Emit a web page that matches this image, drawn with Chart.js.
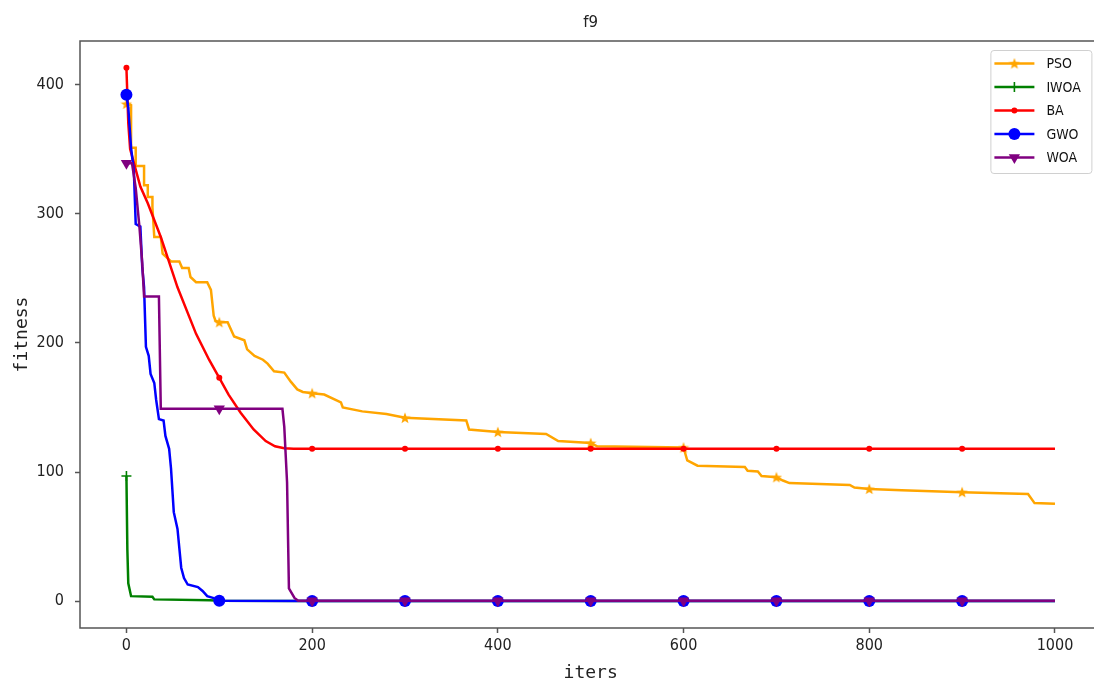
<!DOCTYPE html>
<html>
<head>
<meta charset="utf-8">
<script src="https://cdn.jsdelivr.net/npm/chart.js@4/dist/chart.umd.min.js"></script>
<style>
  html, body { margin: 0; padding: 0; background: #fff; overflow: hidden; }
  #wrap { width: 1094px; height: 684px; overflow: hidden; }
</style>
</head>
<body>
<div id="wrap"><canvas id="f9Chart" width="1108" height="684"></canvas></div>
<script>
// f9 : courbes de convergence (fitness vs iters)

const xTicks = [0, 200, 400, 600, 800, 1000];
const yTicks = [0, 100, 200, 300, 400];

// [iteration, fitness]
const psoCurve = [
  [0, 385], [5, 384], [5, 351], [10, 351], [10, 337], [19, 337], [19, 322], [23, 322],
  [23, 313], [28, 313], [28, 305], [30, 282], [37, 282], [39, 269], [48, 263], [57, 263],
  [60, 258], [67, 258], [69, 251], [75, 247], [87, 247], [91, 241], [94, 221], [96, 217],
  [100, 216], [109, 216], [116, 205], [127, 202], [130, 195], [138, 190], [147, 187],
  [152, 184], [159, 178], [170, 177], [177, 170], [184, 164], [190, 162], [200, 161],
  [213, 160], [231, 154], [233, 150], [254, 147], [280, 145], [300, 142], [366, 140],
  [369, 133], [400, 131], [452, 129.5], [465, 124], [500, 122.5], [507, 120], [600, 119],
  [604, 109], [615, 105], [666, 104], [669, 101], [680, 100.5], [684, 97], [700, 96],
  [707, 93.5], [714, 91.5], [779, 90], [784, 88], [800, 87], [835, 86], [900, 84.5],
  [971, 83], [978, 76], [1000, 75.5]
];
const iwoaCurve = [
  [0, 97], [1, 40], [2, 14], [5, 4], [28, 3.5], [30, 1.5], [90, 0.8], [100, 0.5],
  [200, 0.3], [300, 0.3], [400, 0.3], [500, 0.3], [600, 0.3], [700, 0.3], [800, 0.3],
  [900, 0.3], [1000, 0.3]
];
const baCurve = [
  [0, 413], [2, 370], [4, 350], [7, 342], [15, 321], [23, 308], [37, 282], [55, 243],
  [75, 207], [89, 187], [100, 173], [110, 160], [123, 146], [137, 133], [150, 124],
  [160, 120], [170, 118.5], [180, 118], [200, 118], [300, 118], [400, 118], [500, 118],
  [600, 118], [700, 118], [800, 118], [900, 118], [1000, 118]
];
const gwoCurve = [
  [0, 392], [2, 382], [5, 351], [8, 333], [10, 292], [15, 290], [17, 259], [19, 243],
  [21, 197], [24, 190], [26, 176], [30, 169], [32, 156], [35, 141], [40, 140], [42, 128],
  [46, 118], [48, 103], [51, 69], [55, 56], [57, 41], [59, 26], [62, 18], [66, 13],
  [77, 11], [82, 8], [87, 4], [94, 2.5], [100, 0.5], [200, 0.2], [300, 0.2], [400, 0.2],
  [500, 0.2], [600, 0.2], [700, 0.2], [800, 0.2], [900, 0.2], [1000, 0.2]
];
const woaCurve = [
  [0, 339], [6, 339], [10, 320], [14, 290], [17, 262], [19, 236], [35, 236], [37, 149],
  [100, 149], [168, 149], [170, 135], [173, 92], [175, 10], [181, 2.6], [185, 0.5],
  [200, 0.5], [300, 0.5], [400, 0.5], [500, 0.5], [600, 0.5], [700, 0.5], [800, 0.5],
  [900, 0.5], [1000, 0.5]
];

const seriesNames = ['PSO', 'IWOA', 'BA', 'GWO', 'WOA'];
const seriesColors = ['#FFA500', '#008000', '#FF0000', '#0000FF', '#800080'];

const NARROW = "'Liberation Sans Narrow', 'DejaVu Sans Condensed', 'Liberation Sans', sans-serif";
const MONO = "'DejaVu Sans Mono', 'Liberation Mono', monospace";

// étoile pleine (marqueur '*' de matplotlib)
function starImage(color, size) {
  const c = document.createElement('canvas');
  c.width = size; c.height = size;
  const g = c.getContext('2d');
  g.fillStyle = color;
  g.beginPath();
  for (let i = 0; i < 10; i++) {
    const a = -Math.PI / 2 + i * Math.PI / 5;
    const r = i % 2 ? size * 0.21 : size * 0.5;
    const px = size / 2 + r * Math.cos(a), py = size / 2 + 0.5 + r * Math.sin(a);
    if (i === 0) g.moveTo(px, py); else g.lineTo(px, py);
  }
  g.closePath();
  g.fill();
  return c;
}

const markers = [
  { pointStyle: starImage('#FFA500', 12), radius: 6, rotation: 0, borderWidth: 0 },
  { pointStyle: 'cross', radius: 5, rotation: 0, borderWidth: 1.6 },
  { pointStyle: 'circle', radius: 3, rotation: 0, borderWidth: 0 },
  { pointStyle: 'circle', radius: 6, rotation: 0, borderWidth: 0 },
  { pointStyle: 'triangle', radius: 6.5, rotation: 180, borderWidth: 0 }
];

const curves = [psoCurve, iwoaCurve, baCurve, gwoCurve, woaCurve];

// marqueur tous les 100 iterations (markevery=100)
function markEvery(r) {
  return (ctx) => {
    const x = ctx.raw && ctx.raw.x;
    return (x % 100 === 0 && x < 1000) ? r : 0;
  };
}

const datasets = curves.map((curve, i) => ({
  label: seriesNames[i],
  data: curve.map(p => ({ x: p[0], y: p[1] })),
  borderColor: seriesColors[i],
  backgroundColor: seriesColors[i],
  pointBackgroundColor: seriesColors[i],
  pointBorderColor: seriesColors[i],
  borderWidth: 2.5,
  tension: 0,
  pointStyle: markers[i].pointStyle,
  pointRotation: markers[i].rotation,
  pointBorderWidth: markers[i].borderWidth,
  pointRadius: markEvery(markers[i].radius),
  pointHoverRadius: 0,
  order: 5 - i   // WOA dessus, comme matplotlib
}));

// cadre + légende façon matplotlib
const frameAndLegend = {
  id: 'frameAndLegend',
  afterDraw(chart) {
    const { ctx, chartArea: a } = chart;
    ctx.save();
    ctx.strokeStyle = '#555';
    ctx.lineWidth = 1.5;
    ctx.strokeRect(a.left, a.top, a.right - a.left, a.bottom - a.top);

    // légende
    const bx = a.right - 111, by = a.top + 9, bw = 101, bh = 123;
    ctx.fillStyle = 'rgba(255,255,255,0.85)';
    ctx.strokeStyle = '#d0d0d0';
    ctx.lineWidth = 1;
    ctx.beginPath();
    ctx.roundRect(bx + 0.5, by + 0.5, bw, bh, 3);
    ctx.fill();
    ctx.stroke();
    ctx.font = '14px ' + NARROW;
    ctx.textBaseline = 'middle';
    seriesNames.forEach((name, i) => {
      const y = by + 13.5 + i * 23.5;
      ctx.strokeStyle = seriesColors[i];
      ctx.fillStyle = seriesColors[i];
      ctx.lineWidth = 2.5;
      ctx.beginPath();
      ctx.moveTo(bx + 4, y);
      ctx.lineTo(bx + 44, y);
      ctx.stroke();
      ctx.lineWidth = markers[i].borderWidth || 1;
      Chart.helpers.drawPoint(ctx, {
        pointStyle: markers[i].pointStyle,
        radius: markers[i].radius,
        rotation: markers[i].rotation,
        borderWidth: markers[i].borderWidth
      }, bx + 24, y);
      ctx.fillStyle = '#111';
      ctx.fillText(name, bx + 56, y + 1);
    });
    ctx.restore();
  }
};

const ctxF9 = document.getElementById('f9Chart').getContext('2d');
new Chart(ctxF9, {
  type: 'line',
  data: { datasets: datasets },
  plugins: [frameAndLegend],
  options: {
    responsive: false,
    animation: false,
    devicePixelRatio: 1,
    layout: { padding: { left: 0, right: 0, top: 0, bottom: 0 } },
    plugins: {
      legend: { display: false },
      tooltip: { enabled: false },
      title: {
        display: true,
        text: 'f9',
        fullSize: false,
        color: '#222',
        font: { family: "'DejaVu Sans', sans-serif", size: 15, weight: 'normal', lineHeight: 1.2 },
        padding: { top: 14, bottom: 9 }
      }
    },
    scales: {
      x: {
        type: 'linear',
        min: -50,
        max: 1050,
        afterBuildTicks: (scale) => { scale.ticks = xTicks.map(v => ({ value: v })); },
        afterFit: (scale) => { scale.height = 56; },
        grid: { drawOnChartArea: false, drawTicks: true, tickLength: 5, tickColor: '#555', tickWidth: 1.5 },
        border: { display: false },
        ticks: {
          color: '#222', padding: 3, maxRotation: 0,
          font: { family: NARROW, size: 16 },
          callback: (v) => String(v)
        },
        title: {
          display: true, text: 'iters', color: '#222',
          font: { family: MONO, size: 18, lineHeight: 1.2 },
          padding: { top: 0, bottom: 0 }
        }
      },
      y: {
        type: 'linear',
        min: -20.65,
        max: 433.65,
        afterBuildTicks: (scale) => { scale.ticks = yTicks.map(v => ({ value: v })); },
        afterFit: (scale) => { scale.width = 80; },
        grid: { drawOnChartArea: false, drawTicks: true, tickLength: 5, tickColor: '#555', tickWidth: 1.5 },
        border: { display: false },
        ticks: { color: '#222', padding: 11, font: { family: NARROW, size: 16 } },
        title: {
          display: true, text: 'fitness', color: '#222',
          font: { family: MONO, size: 18, lineHeight: 1.2 },
          padding: { top: 12, bottom: 0 }
        }
      }
    }
  }
});
</script>
</body>
</html>
